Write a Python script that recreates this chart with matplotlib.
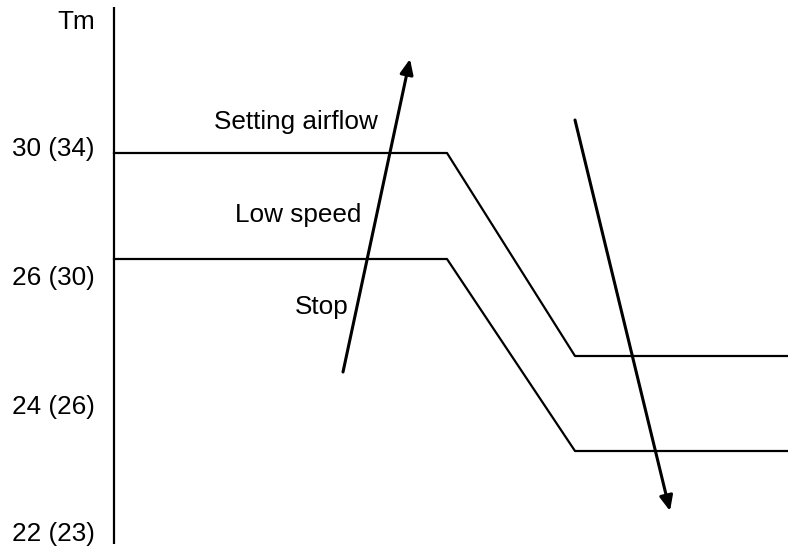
import matplotlib
matplotlib.use("Agg")
import matplotlib.pyplot as plt

# schematic units (x to the right, y downward, like the sketch)
axis_x = [114, 114]
axis_y = [7, 544]

upper_x = [114, 447, 575, 788]
upper_y = [153, 153, 356, 356]
lower_x = [114, 447, 575, 788]
lower_y = [259, 259, 451, 451]

rise_start = (343, 372)
rise_end = (410, 59)
fall_start = (575, 120)
fall_end = (670, 511)

tick_labels = ["Tm", "30 (34)", "26 (30)", "24 (26)", "22 (23)"]
tick_base = [29, 156, 285, 414, 541]

zone_labels = ["Setting airflow", "Low speed", "Stop"]
zone_x = [214, 235, 295]
zone_base = [129, 222, 314]

plt.rcParams['font.family'] = ['Liberation Sans', 'DejaVu Sans']

fig = plt.figure(figsize=(7.88, 5.49), dpi=100)
ax = fig.add_axes([0, 0, 1, 1])
ax.set_xlim(0, 788)
ax.set_ylim(549, 0)
ax.axis('off')

ax.plot(axis_x, axis_y, color='black', lw=1.6, solid_capstyle='butt')
ax.plot(upper_x, upper_y, color='black', lw=1.6)
ax.plot(lower_x, lower_y, color='black', lw=1.6)

for a, b in [(rise_start, rise_end), (fall_start, fall_end)]:
    ax.annotate('', xy=b, xytext=a,
                arrowprops=dict(arrowstyle='-|>,head_length=0.5,head_width=0.22',
                                mutation_scale=18, lw=2.2, color='black',
                                shrinkA=0, shrinkB=0))

for lab, yb in zip(tick_labels, tick_base):
    ax.text(95, yb, lab, ha='right', va='baseline', fontsize=18.8)

for lab, xl, yb in zip(zone_labels, zone_x, zone_base):
    ax.text(xl, yb, lab, ha='left', va='baseline', fontsize=18.8)

fig.savefig('out.png', dpi=100)
